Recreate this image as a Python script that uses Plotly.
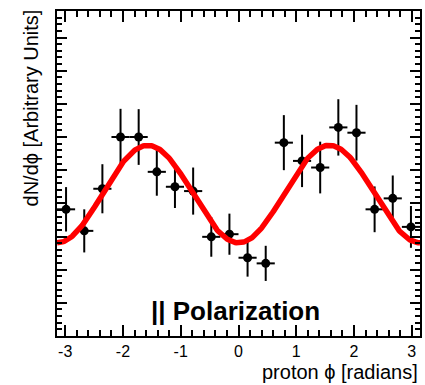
import numpy as np
import plotly.graph_objects as go

# Bin centres (proton phi, radians)
phi = [-2.985, -2.670, -2.356, -2.042, -1.728, -1.414, -1.100, -0.785, -0.471, -0.157,
       0.157, 0.471, 0.785, 1.100, 1.414, 1.728, 2.042, 2.356, 2.670, 2.985]
# dN/dphi (arbitrary units)
counts = [3.82, 3.17, 4.44, 6.00, 6.00, 4.95, 4.50, 4.37, 2.99, 3.07,
          2.36, 2.19, 5.83, 5.28, 5.08, 6.29, 6.13, 3.82, 4.15, 3.29]
errors = [0.67, 0.65, 0.74, 0.85, 0.84, 0.72, 0.64, 0.71, 0.60, 0.62,
          0.57, 0.53, 0.83, 0.79, 0.78, 0.85, 0.84, 0.69, 0.69, 0.63]
bin_half_width = [np.pi / 20] * len(phi)

# Fit parameters: A - B*cos(2 phi)
FIT_A = 4.28
FIT_B = 1.47

x_ticks = [-3, -2, -1, 0, 1, 2, 3]
x_ticklabels = ["-3", "-2", "-1", "0", "1", "2", "3"]

phi_fit = np.linspace(-np.pi, np.pi, 400)
y_fit = FIT_A - FIT_B * np.cos(2 * phi_fit)

FONT = "Liberation Sans, Arial, sans-serif"

fig = go.Figure()
fig.add_trace(go.Scatter(
    x=phi, y=counts, mode="markers",
    marker=dict(color="black", size=9, symbol="circle"),
    error_y=dict(type="data", array=errors, color="black", thickness=2, width=0),
    error_x=dict(type="data", array=bin_half_width, color="black", thickness=2, width=0),
    showlegend=False, cliponaxis=True,
))
fig.add_trace(go.Scatter(
    x=phi_fit, y=y_fit, mode="lines",
    line=dict(color="#ff0000", width=5.5),
    showlegend=False, hoverinfo="skip",
))

fig.update_layout(
    width=425, height=385,
    margin=dict(l=57, r=3, t=11, b=49),
    paper_bgcolor="white", plot_bgcolor="white",
    font=dict(family=FONT, color="black", size=16),
    xaxis=dict(
        range=[-np.pi, np.pi], showgrid=False, zeroline=False,
        showline=True, linecolor="black", linewidth=2, mirror="ticks",
        ticks="inside", ticklen=11, tickwidth=2, tickcolor="black",
        tickvals=x_ticks, ticktext=x_ticklabels,
        tickfont=dict(size=16, family=FONT, color="black"),
        minor=dict(dtick=0.2, ticks="inside", ticklen=6, tickwidth=2, tickcolor="black", showgrid=False),
    ),
    yaxis=dict(
        range=[0, 9.8], showgrid=False, zeroline=False,
        showline=True, linecolor="black", linewidth=2, mirror="ticks",
        ticks="inside", ticklen=10, tickwidth=2, tickcolor="black",
        dtick=1, tick0=0, showticklabels=False,
        minor=dict(dtick=0.2, ticks="inside", ticklen=5, tickwidth=2, tickcolor="black", showgrid=False),
    ),
    annotations=[
        dict(text="dN/dϕ [Arbitrary Units]", xref="paper", yref="paper",
             x=-0.072, y=1.012, xanchor="center", yanchor="top", textangle=-90,
             showarrow=False, font=dict(size=20, family=FONT, color="black")),
        dict(text="proton ϕ [radians]", xref="paper", yref="paper",
             x=1.0, y=-0.111, xanchor="right", yanchor="middle",
             showarrow=False, font=dict(size=20, family=FONT, color="black")),
        dict(text="<b>|| Polarization</b>", xref="x", yref="y",
             x=-0.06, y=0.75, xanchor="center", yanchor="middle",
             showarrow=False, font=dict(size=26, family=FONT, color="black")),
    ],
)

fig.write_html("out.html")
